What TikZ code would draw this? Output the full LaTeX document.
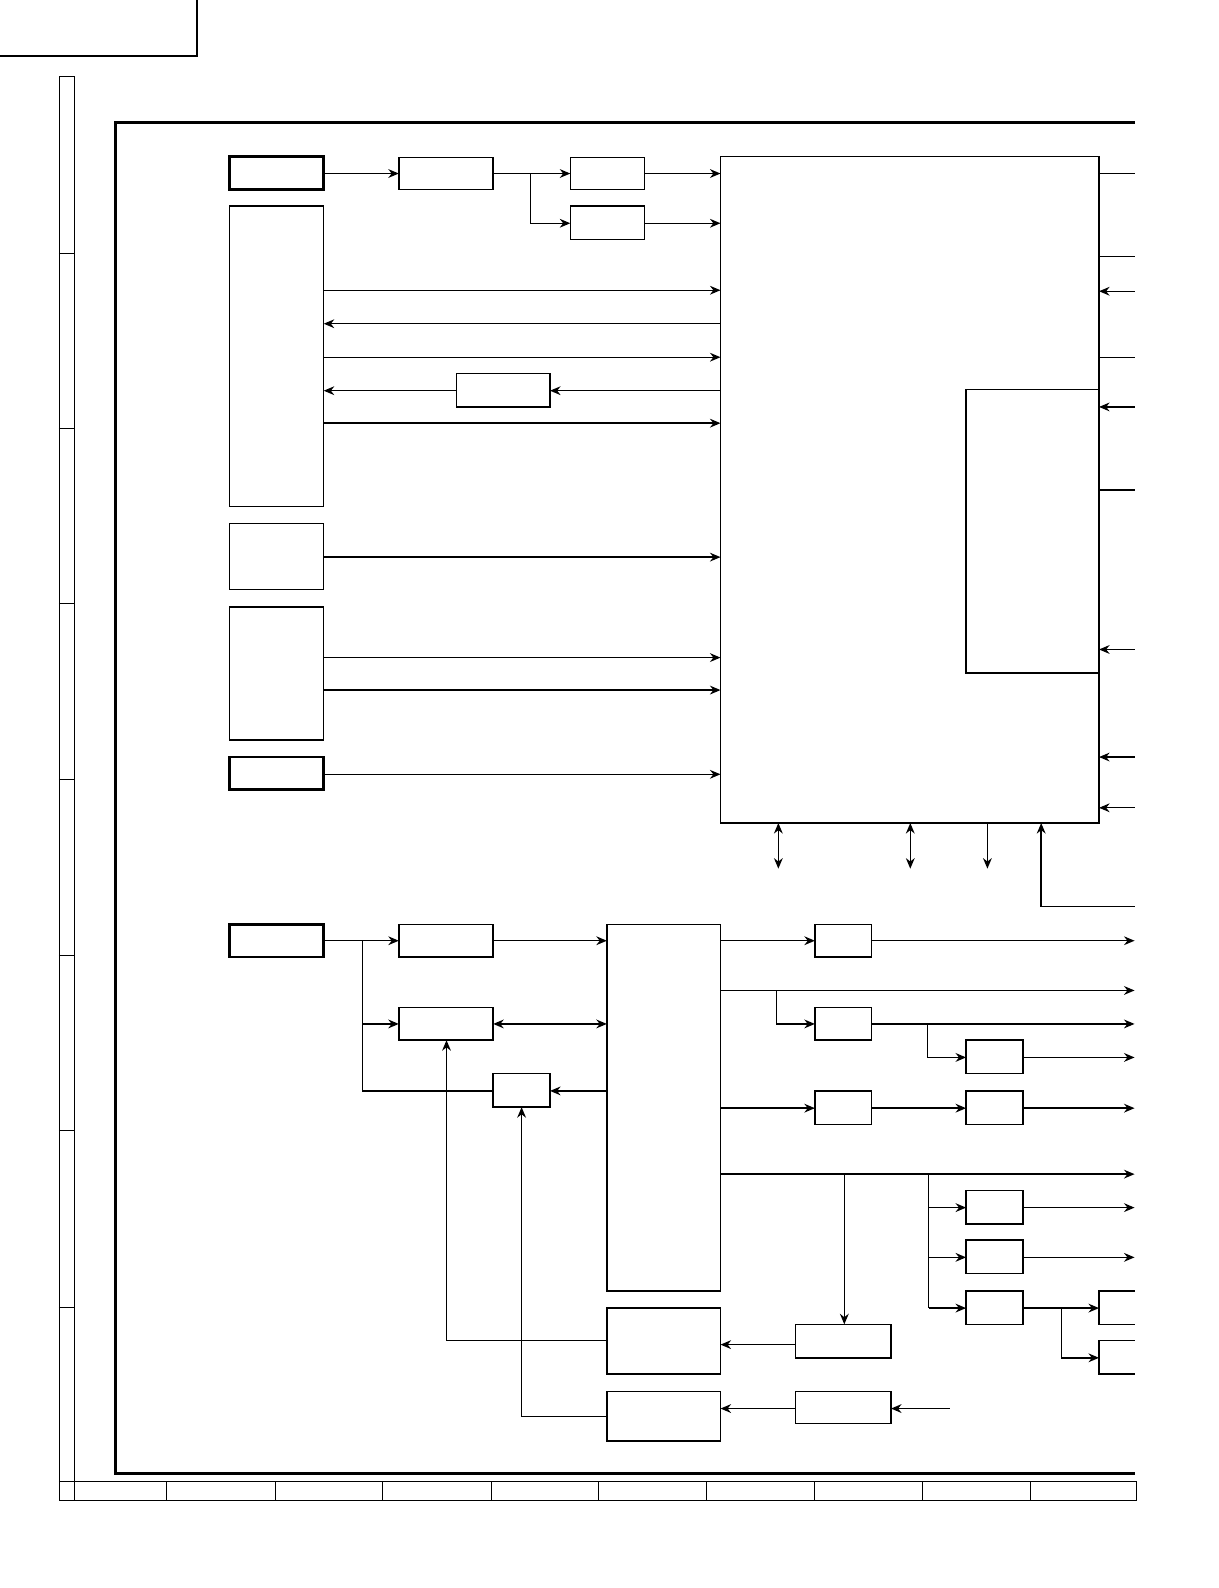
\documentclass[tikz,border=0pt]{standalone}
\usetikzlibrary{positioning,calc,arrows,arrows.meta}
\tikzset{font=\small}
\tikzset{blk/.style={draw, thick, rectangle, inner sep=0pt}, ln/.style={thick}, ar/.style={thick, -{Stealth[length=6pt,width=5pt]}}, dar/.style={thick, {Stealth[length=6pt,width=5pt]}-{Stealth[length=6pt,width=5pt]}}}

\begin{document}
\begin{tikzpicture}[x=0.02cm, y=-0.02cm]
	\useasboundingbox (0,0) rectangle (1218,1588);
	\begin{scope}[scale=1.0148]
	% sheet frame
	\draw[thick] (0,55) -- (194,55) -- (194,0);
	\draw[thin] (58,75) rectangle (73,1478);
	\foreach \y in {250,422,595,768,941,1114,1288,1460}
		\draw[thin] (58,\y) -- (73,\y);
	\draw[thin] (58,1460) rectangle (1120,1478);
	\foreach \x in {73,164,271,377,484,590,696,802,909,1015}
		\draw[thin] (\x,1460) -- (\x,1478);
	\draw[line width=1.6pt] (1118,121) -- (114,121) -- (114,1452) -- (1118,1452);

	% upper blocks
	\draw[line width=1.5pt] (226,154) rectangle (319,187);
	\draw[blk] (226,203) rectangle (319,499);
	\draw[blk] (226,516) rectangle (319,581);
	\draw[blk] (226,598) rectangle (319,729);
	\draw[line width=1.5pt] (226,746) rectangle (319,778);
	\draw[blk] (393,155) rectangle (486,187);
	\draw[blk] (562,155) rectangle (635,187);
	\draw[blk] (562,203) rectangle (635,236);
	\draw[blk] (450,368) rectangle (542,401);
	\draw[blk] (710,154) rectangle (1083,811);
	\draw[blk] (952,384) rectangle (1083,663);

	\draw[ar] (319,171) -- (393,171);
	\draw[ar] (486,171) -- (562,171);
	\draw[ar] (523,171) |- (562,220);
	\draw[ar] (635,171) -- (710,171);
	\draw[ar] (635,220) -- (710,220);
	\draw[ar] (319,286) -- (710,286);
	\draw[ar] (710,319) -- (319,319);
	\draw[ar] (319,352) -- (710,352);
	\draw[ar] (710,385) -- (542,385);
	\draw[ar] (450,385) -- (319,385);
	\draw[ar] (319,417) -- (710,417);
	\draw[ar] (319,549) -- (710,549);
	\draw[ar] (319,648) -- (710,648);
	\draw[ar] (319,680) -- (710,680);
	\draw[ar] (319,763) -- (710,763);

	\foreach \y in {171,253,352,483}
		\draw[ln] (1083,\y) -- (1118,\y);
	\foreach \y in {287,401,640,746,796}
		\draw[ar] (1118,\y) -- (1083,\y);
	\draw[dar] (767,811) -- (767,856);
	\draw[dar] (897,811) -- (897,856);
	\draw[ar] (973,811) -- (973,856);
	\draw[ar] (1118,893) -| (1026,811);

	% lower blocks
	\draw[line width=1.5pt] (226,911) rectangle (319,943);
	\draw[blk] (393,911) rectangle (486,943);
	\draw[blk] (393,993) rectangle (486,1025);
	\draw[blk] (486,1058) rectangle (542,1091);
	\draw[blk] (598,911) rectangle (710,1272);
	\draw[blk] (598,1289) rectangle (710,1354);
	\draw[blk] (598,1371) rectangle (710,1420);
	\draw[blk] (784,1305) rectangle (878,1338);
	\draw[blk] (784,1371) rectangle (878,1403);
	\draw[blk] (803,911) rectangle (859,943);
	\draw[blk] (803,993) rectangle (859,1025);
	\draw[blk] (952,1025) rectangle (1008,1058);
	\draw[blk] (803,1075) rectangle (859,1108);
	\draw[blk] (952,1075) rectangle (1008,1108);
	\draw[blk] (952,1173) rectangle (1008,1206);
	\draw[blk] (952,1222) rectangle (1008,1255);
	\draw[blk] (952,1272) rectangle (1008,1305);
	\draw[thick] (1118,1272) -- (1083,1272) -- (1083,1305) -- (1118,1305);
	\draw[thick] (1118,1321) -- (1083,1321) -- (1083,1354) -- (1118,1354);

	\draw[ar] (319,927) -- (393,927);
	\draw[ln] (357,927) -- (357,1075) -- (486,1075);
	\draw[ar] (357,1009) -- (393,1009);
	\draw[ar] (486,927) -- (598,927);
	\draw[dar] (486,1009) -- (598,1009);
	\draw[ar] (598,1075) -- (542,1075);
	\draw[ar] (598,1321) -| (440,1025);
	\draw[ar] (598,1396) -| (514,1091);
	\draw[ar] (784,1325) -- (710,1325);
	\draw[ar] (784,1388) -- (710,1388);
	\draw[ar] (936,1388) -- (878,1388);

	\draw[ar] (710,927) -- (803,927);
	\draw[ar] (859,927) -- (1118,927);
	\draw[ar] (710,976) -- (1118,976);
	\draw[ar] (765,976) |- (803,1009);
	\draw[ar] (859,1009) -- (1118,1009);
	\draw[ar] (914,1009) |- (952,1042);
	\draw[ar] (1008,1042) -- (1118,1042);
	\draw[ar] (710,1092) -- (803,1092);
	\draw[ar] (859,1092) -- (952,1092);
	\draw[ar] (1008,1092) -- (1118,1092);
	\draw[ar] (710,1157) -- (1118,1157);
	\draw[ar] (832,1157) -- (832,1305);
	\draw[ln] (915,1157) -- (915,1289);
	\draw[ar] (915,1190) -- (952,1190);
	\draw[ar] (915,1239) -- (952,1239);
	\draw[ar] (915,1289) -- (952,1289);
	\draw[ar] (1008,1190) -- (1118,1190);
	\draw[ar] (1008,1239) -- (1118,1239);
	\draw[ar] (1008,1289) -- (1083,1289);
	\draw[ar] (1046,1289) |- (1083,1338);
	\end{scope}
\end{tikzpicture}
\end{document}
